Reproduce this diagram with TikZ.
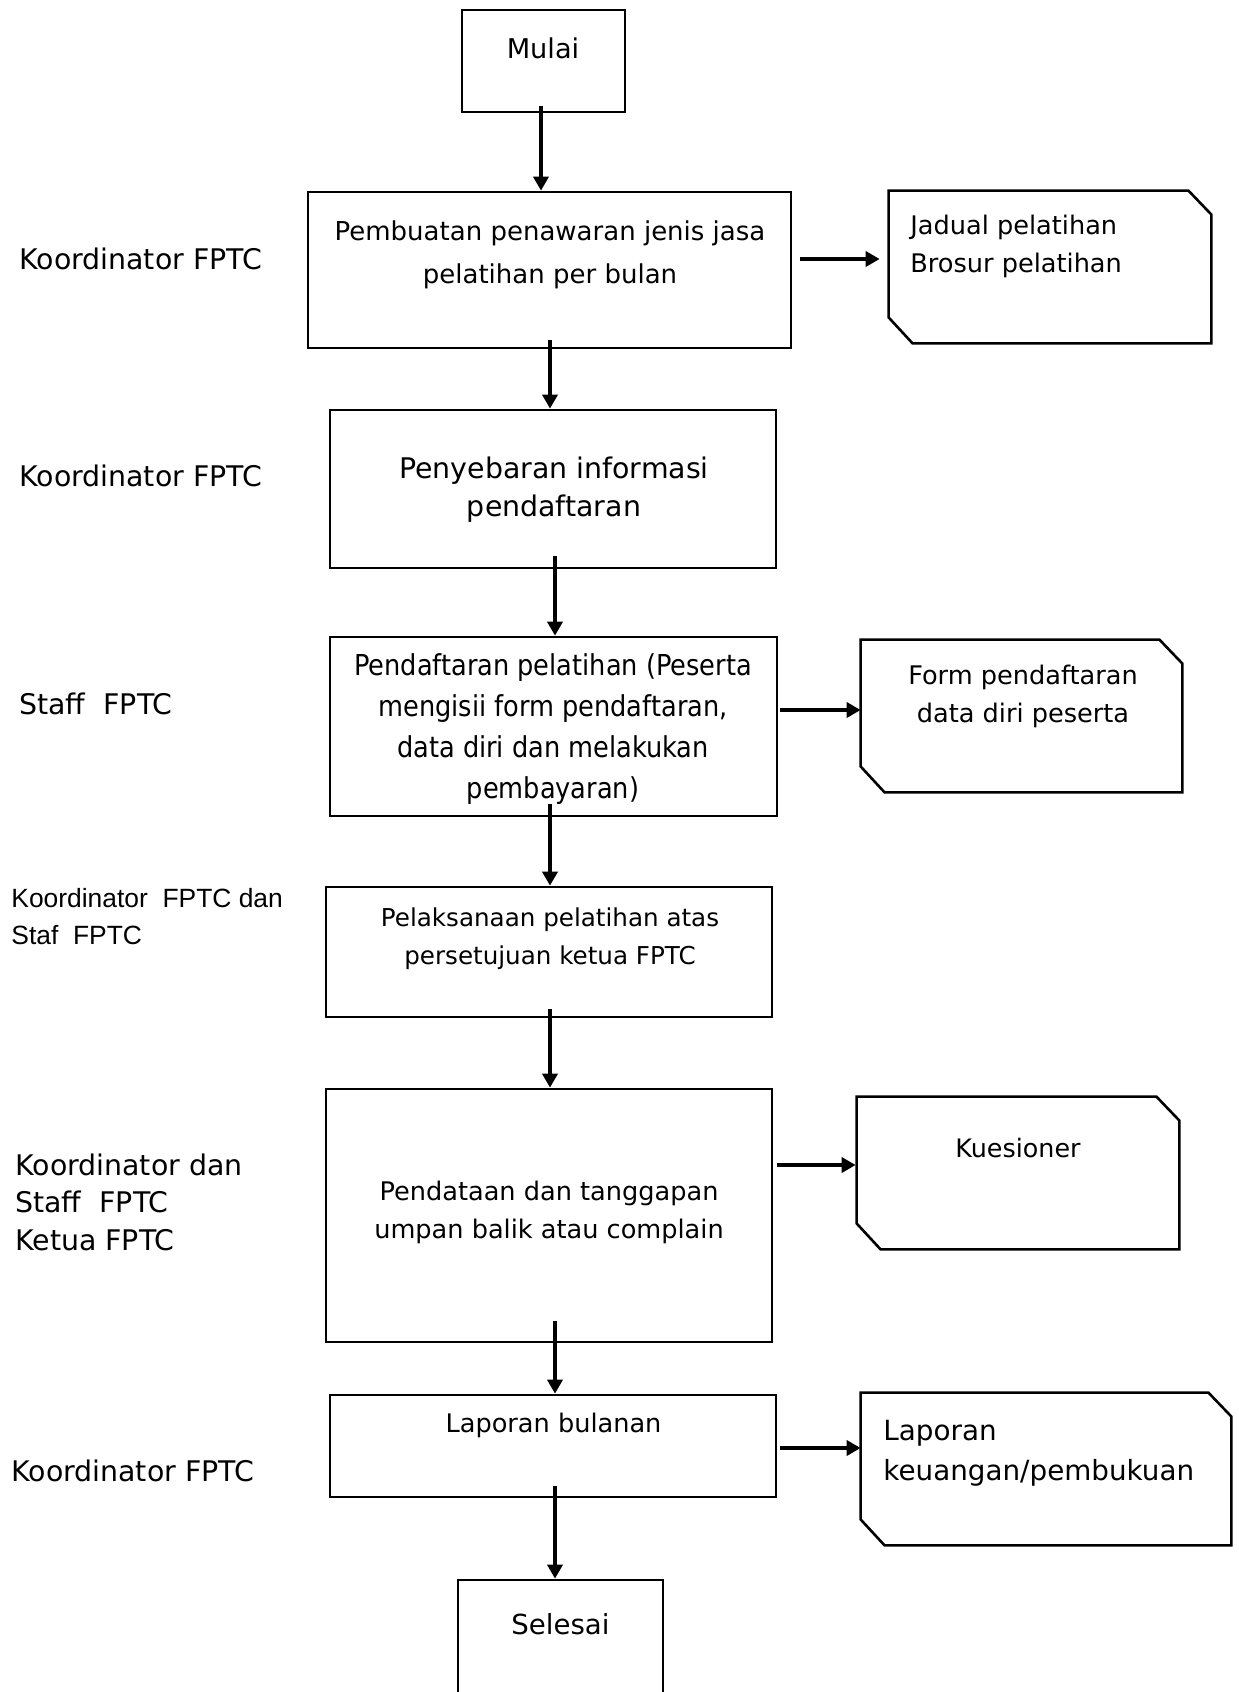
\documentclass[tikz,border=0pt]{standalone}
\usepackage{fontspec}
\setmainfont{DejaVu Sans}
\newfontfamily\narrowfont[FakeStretch=0.89]{DejaVu Sans}
\newfontfamily\arialfont{Liberation Sans}
\usetikzlibrary{calc,arrows.meta}
\begin{document}
\begin{tikzpicture}[x=0.5pt,y=-0.5pt,
  box/.style={draw,line width=1.4pt,inner sep=0pt,rectangle},
  doc/.style={inner sep=0pt,rectangle},
  docline/.style={line width=1.3pt,line join=miter},
  txt/.style={inner sep=0pt,align=center},
  ltxt/.style={inner sep=0pt,align=left,anchor=west},
  arr/.style={line width=1.6pt,-{Triangle[length=7pt,width=7.6pt]}},
  fs/.style 2 args={font=\fontsize{#1}{#2}\selectfont}
]
\useasboundingbox (0,0) rectangle (1238,1692);
\clip (0,0) rectangle (1238,1692);

% process boxes
\node[box,minimum width=81.5pt,minimum height=51pt] (m) at (543.5,61) {};
\node[box,minimum width=241.5pt,minimum height=78pt] (b2) at (549.5,270) {};
\node[box,minimum width=223pt,minimum height=79pt] (b3) at (553,489) {};
\node[box,minimum width=223.5pt,minimum height=89.5pt] (b4) at (553.5,726.5) {};
\node[box,minimum width=223pt,minimum height=65pt] (b5) at (549,952) {};
\node[box,minimum width=223pt,minimum height=126.5pt] (b6) at (549,1215.5) {};
\node[box,minimum width=223pt,minimum height=51pt] (b7) at (553,1446) {};
\node[box,minimum width=102.5pt,minimum height=65pt] (s) at (560.5,1645) {};

% document shapes
\node[doc,minimum width=161pt,minimum height=76pt] (d1) at (1050,267) {};
\node[doc,minimum width=160.5pt,minimum height=76pt] (d2) at (1021.5,716) {};
\node[doc,minimum width=161pt,minimum height=76pt] (d3) at (1018,1173) {};
\node[doc,minimum width=185pt,minimum height=76pt] (d4) at (1046,1469) {};
\foreach \n in {d1,d2,d3,d4}
  \draw[docline] (\n.north west) -- ([xshift=-11.5pt]\n.north east) -- ([yshift=-12pt]\n.north east) -- (\n.south east) -- ([xshift=12pt]\n.south west) -- ([yshift=13pt]\n.south west) -- cycle;

% texts in boxes
\node[txt,fs={13.6}{20}] (tm) at (543,48) {Mulai};
\node[txt,fs={13}{21.5}] (t2) at (550,254.5) {Pembuatan penawaran jenis jasa\\pelatihan per bulan};
\node[txt,fs={14.2}{19}] (t3) at (554,490) {Penyebaran informasi\\pendaftaran};
\node[txt,font=\narrowfont\fontsize{14.4}{20.5}\selectfont] (t4) at (553,729) {Pendaftaran pelatihan (Peserta\\mengisii form pendaftaran,\\data diri dan melakukan\\pembayaran)};
\node[txt,fs={12.3}{19}] (t5) at (550,939) {Pelaksanaan pelatihan atas\\persetujuan ketua FPTC};
\node[txt,fs={12.8}{19}] (t6) at (549,1212) {Pendataan dan tanggapan\\umpan balik atau complain};
\node[txt,fs={12.8}{19}] (t7) at (553.5,1425) {Laporan bulanan};
\node[txt,fs={13.8}{20}] (ts) at (560.5,1624) {Selesai};

% texts in documents
\node[ltxt,fs={12.8}{19}] (td1) at (910,246) {Jadual pelatihan\\Brosur pelatihan};
\node[txt,fs={12.8}{19}] (td2) at (1023,696) {Form pendaftaran\\data diri peserta};
\node[txt,fs={12.7}{19}] (td3) at (1018,1148) {Kuesioner};
\node[ltxt,fs={13.9}{20}] (td4) at (883,1453) {Laporan\\keuangan/pembukuan};

% left labels
\node[ltxt,fs={14.2}{19}] (l1) at (19,259) {Koordinator FPTC};
\node[ltxt,fs={14.2}{19}] (l2) at (19,476) {Koordinator FPTC};
\node[ltxt,fs={14.2}{19}] (l3) at (19,704) {Staff\ \ FPTC};
\node[ltxt,font=\arialfont\fontsize{13.2}{18.5}\selectfont] (l4) at (11,916.5) {Koordinator\ \ FPTC dan\\Staf\ \ FPTC};
\node[ltxt,fs={14.2}{18.7}] (l5) at (15,1202) {Koordinator dan\\Staff\ \ FPTC\\Ketua FPTC};
\node[ltxt,fs={14.2}{19}] (l6) at (11,1471) {Koordinator FPTC};

% vertical connectors
\draw[arr] ($(m.south)+(-2.5,-7)$) -- ($(m.south |- b2.north)+(-2.5,0)$);
\draw[arr] ($(b2.south)+(0.5,-9)$) -- ($(b2.south |- b3.north)+(0.5,0)$);
\draw[arr] ($(b3.south)+(2,-13)$) -- ($(b3.south |- b4.north)+(2,0)$);
\draw[arr] ($(b4.south)+(-3.5,-13)$) -- ($(b4.south |- b5.north)+(-3.5,0)$);
\draw[arr] ($(b5.south)+(1,-9)$) -- ($(b5.south |- b6.north)+(1,0)$);
\draw[arr] ($(b6.south)+(6,-22)$) -- ($(b6.south |- b7.north)+(6,0)$);
\draw[arr] ($(b7.south)+(2,-12)$) -- ($(b7.south |- s.north)+(2,0)$);

% horizontal connectors
\draw[arr] ($(b2.east |- d1.west)+(8,-8)$) -- ($(d1.west)+(-9,-8)$);
\draw[arr] ($(b4.east |- d2.west)+(2,-6)$) -- ($(d2.west)+(0,-6)$);
\draw[arr] ($(b6.east |- d3.west)+(4,-8)$) -- ($(d3.west)+(-1,-8)$);
\draw[arr] ($(b7.east |- d4.west)+(3,-21)$) -- ($(d4.west)+(0,-21)$);
\end{tikzpicture}
\end{document}
